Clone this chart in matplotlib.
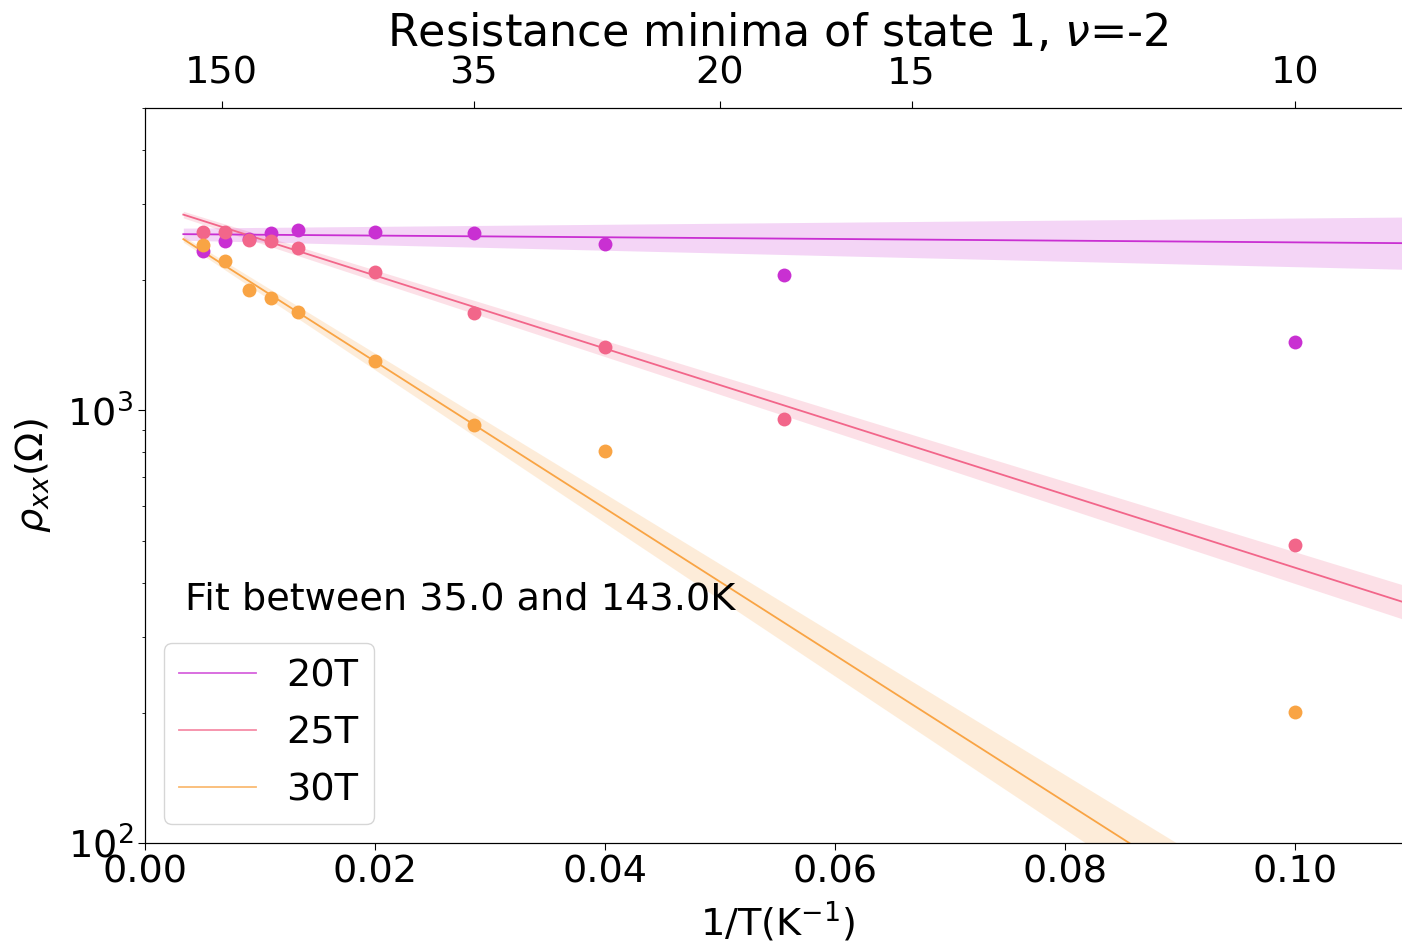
import numpy as np
import matplotlib
matplotlib.use("Agg")
import matplotlib.pyplot as plt

# ---- data ----
temps = [200, 143, 111, 91, 75, 50, 35, 25, 18, 10]           # K
rho_20T = [2334, 2462, 2488, 2569, 2610, 2587, 2569, 2423, 2054, 1437]
rho_25T = [2583, 2583, 2479, 2462, 2371, 2086, 1677, 1399, 953, 489]
rho_30T = [2414, 2213, 1896, 1814, 1688, 1299, 923, 804, np.nan, 201]
fields = ["20T", "25T", "30T"]
colors = ["#c930d2", "#f2668a", "#f9a444"]

# fit parameters: log10(rho) = a + b * (1/T); band half-width = sa + sb * (1/T)
fit_a = [3.408, 3.4807, 3.4524]
fit_b = [-0.196, -8.443, -16.97]
fit_sa = [0.0125, 0.0067, 0.0046]
fit_sb = [0.437, 0.30, 0.73]
fit_T_range = (35.0, 143.0)
line_T_max = 300.0

top_T = [150, 35, 20, 15, 10]

# ---- figure ----
W, H = 1402, 943
fig = plt.figure(figsize=(W / 100, H / 100), dpi=100)
left = 145 / W
bottom = (H - 843) / H
height = (843 - 108) / H
width = (1410 - 145) / W
ax = fig.add_axes([left, bottom, width, height])

FS = 27.5
x = 1.0 / np.array(temps, dtype=float)
xl = np.linspace(1.0 / line_T_max, 0.11, 400)
series = [rho_20T, rho_25T, rho_30T]
for i, (lab, col, rho) in enumerate(zip(fields, colors, series)):
    ax.plot(x, rho, "o", color=col, ms=10, mew=0, zorder=3)
    logfit = fit_a[i] + fit_b[i] * xl
    hw = fit_sa[i] + fit_sb[i] * xl
    ax.plot(xl, 10 ** logfit, color=col, lw=1.3, label=lab, zorder=2)
    ax.fill_between(xl, 10 ** (logfit - hw), 10 ** (logfit + hw),
                    color=col, alpha=0.2, lw=0, zorder=1)

ax.set_yscale("log")
ax.set_xlim(0, 0.11)
ax.set_ylim(100, 5000)
ax.set_xticks([0.0, 0.02, 0.04, 0.06, 0.08, 0.10])
ax.set_xticklabels(["0.00", "0.02", "0.04", "0.06", "0.08", "0.10"])
ax.tick_params(axis="both", which="major", labelsize=FS, length=5)
ax.set_xlabel(r"1/T(K$^{-1}$)", fontsize=FS, labelpad=6)
ax.set_ylabel(r"$\rho_{xx}(\Omega)$", fontsize=FS, labelpad=10)

ax.text(0.032, 0.331, "Fit between %.1f and %.1fK" % fit_T_range,
        transform=ax.transAxes, fontsize=FS, va="center", ha="left")

leg = ax.legend(loc="lower left", fontsize=FS, framealpha=0.8,
                handlelength=2.0, borderaxespad=0.5, labelspacing=0.55)
for lh in leg.get_lines():
    lh.set_alpha(0.75)

ax2 = ax.twiny()
ax2.set_xlim(ax.get_xlim())
ax2.set_xticks(1.0 / np.array(top_T, dtype=float))
ax2.set_xticklabels([str(t) for t in top_T])
ax2.tick_params(axis="x", labelsize=FS, length=5, pad=7)

ax.set_title(r"Resistance minima of state 1, $\nu$=-2", fontsize=32, pad=2)

fig.savefig("out.png", dpi=100)
